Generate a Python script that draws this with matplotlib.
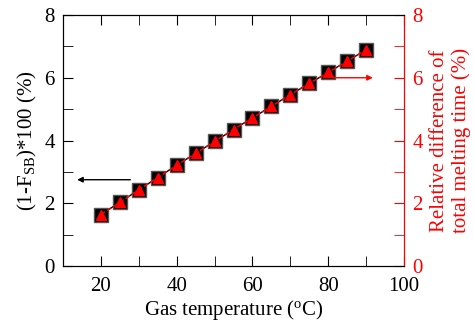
import matplotlib
matplotlib.use("Agg")
import matplotlib.pyplot as plt
from matplotlib.ticker import MultipleLocator

plt.rcParams['font.family'] = ['Liberation Serif', 'DejaVu Serif']
plt.rcParams['mathtext.fontset'] = 'custom'
plt.rcParams['mathtext.rm'] = 'Liberation Serif'
plt.rcParams['mathtext.it'] = 'Liberation Serif:italic'

gas_temp = [20, 25, 30, 35, 40, 45, 50, 55, 60, 65, 70, 75, 80, 85, 90]
one_minus_fsb = [1.64, 2.03, 2.43, 2.82, 3.21, 3.59, 3.97, 4.35, 4.72, 5.09, 5.46, 5.82, 6.17, 6.53, 6.89]
rel_diff_melt = [1.64, 2.03, 2.43, 2.82, 3.21, 3.59, 3.97, 4.35, 4.72, 5.09, 5.46, 5.82, 6.17, 6.53, 6.89]

fig = plt.figure(figsize=(4.75, 3.26), dpi=100)
ax = fig.add_axes([63/475, 60/326, (404-63)/475, (266-15)/326])

ax.plot(gas_temp, one_minus_fsb, color='black', lw=1, marker='s', ms=10,
        mfc='black', mec='#555555', mew=1, zorder=3)
ax.set_xlim(10, 100)
ax.set_ylim(0, 8)
ax.xaxis.set_major_locator(MultipleLocator(20))
ax.xaxis.set_minor_locator(MultipleLocator(10))
ax.yaxis.set_major_locator(MultipleLocator(2))
ax.yaxis.set_minor_locator(MultipleLocator(1))
ax.tick_params(which='both', direction='in', top=True, right=False, labelsize=15, pad=6)
ax.tick_params(axis='x', pad=8)
ax.tick_params(which='major', length=7)
ax.tick_params(which='minor', length=7)
ax.set_xlabel('Gas temperature ($\\mathregular{^{o}}$C)', fontsize=15, labelpad=1)
ax.set_ylabel('(1-F$_{\\mathregular{SB}}$)*100 (%)', fontsize=15, labelpad=4)

ax2 = ax.twinx()
ax2.plot(gas_temp, rel_diff_melt, color='red', lw=1, ls='--', marker='^', ms=7,
         mfc='red', mec='red', zorder=4)
ax2.set_ylim(0, 8)
ax2.yaxis.set_major_locator(MultipleLocator(2))
ax2.yaxis.set_minor_locator(MultipleLocator(1))
ax2.tick_params(which='both', direction='in', colors='red', labelsize=15, length=7, pad=6)
ax2.spines['right'].set_color('red')
ax2.set_ylabel('Relative difference of\ntotal melting time (%)', color='red', fontsize=15,
               linespacing=1.15, labelpad=5)

ax.annotate('', xy=(13, 2.75), xytext=(28.5, 2.75),
            arrowprops=dict(arrowstyle='-|>', color='black', lw=1, mutation_scale=8))
ax.annotate('', xy=(92.5, 6.0), xytext=(80.5, 6.0),
            arrowprops=dict(arrowstyle='-|>', color='red', lw=1, mutation_scale=8))

fig.savefig('out.png', dpi=100)
